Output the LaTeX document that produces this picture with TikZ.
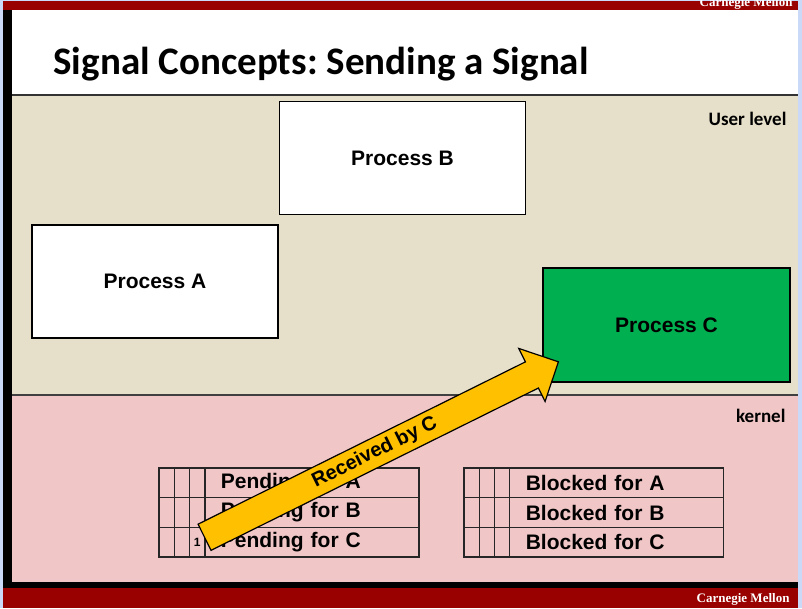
\documentclass[tikz,border=0pt]{standalone}
\usepackage{fontspec}
\setmainfont{Liberation Sans}
\newfontfamily\calibri{Carlito}
\newfontfamily\timesbf{Liberation Serif}
\usetikzlibrary{positioning,shapes.arrows}

\definecolor{cmured}{HTML}{990000}
\definecolor{userbg}{HTML}{E6DFC9}
\definecolor{kernbg}{HTML}{F0C6C6}
\definecolor{procgreen}{HTML}{00B050}
\definecolor{sigyellow}{HTML}{FFC000}
\definecolor{frameblue}{HTML}{C9D9F7}

\begin{document}
\frenchspacing
\begin{tikzpicture}[%
	x=1pt, y=-1pt,
	font=\fontsize{21}{24}\selectfont\bfseries,
	process/.style={draw=black, line width=1.5pt, fill=white, minimum width=246pt, minimum height=113pt, inner sep=0pt},
	cell/.style={draw=black!85, line width=1.3pt, outer sep=0pt, minimum height=29.7pt, inner sep=0pt, anchor=north west},
	tick/.style={cell, minimum width=15.3pt},
	entry/.style={cell, minimum width=214pt, text width=182pt, align=left},
	level/.style={anchor=base east, font=\calibri\fontsize{19}{22}\selectfont\bfseries},
	cmu/.style={anchor=base east, text=white, font=\timesbf\fontsize{13}{14}\selectfont\bfseries},
	signal/.style={single arrow, draw=black, line width=1.2pt, fill=sigyellow, minimum height=395pt, single arrow head extend=15pt, inner ysep=5pt, text height=14pt, text depth=4pt, font=\fontsize{20}{22}\selectfont\bfseries}
	]
	\useasboundingbox (0,0) rectangle (802,608);
	\fill[frameblue] (0,0) rectangle (802,608);
	
	% slide frame
	\fill[cmured] (3,1) rectangle (798,10);
	\fill[white] (12,10) rectangle (798,94);
	\fill[userbg] (12,95) rectangle (798,395);
	\fill[kernbg] (12,395) rectangle (798,582);
	\fill[black] (3,10) rectangle (12,588);
	\fill[black] (3,582) rectangle (798,588);
	\fill[cmured] (3,588) rectangle (798,608);
	\draw[line width=2pt, black!80] (12,95) -- (798,95);
	\draw[line width=1.2pt, black!75] (12,395) -- (798,395);
	
	\node[cmu] (cmutop) at (796,6) {Carnegie Mellon};
	\node[cmu] (cmubot) at (793,602) {Carnegie Mellon};
	\node[anchor=base west, font=\calibri\fontsize{39}{41}\selectfont\bfseries] (title) at (50,74) {Signal Concepts: Sending a Signal};
	
	\node[level] (user) at (790,125) {User level};
	\node[level] (kern) at (789,422) {kernel};
	
	% processes
	\node[process] (procA) at (155,281.5) {Process A};
	\node[process, above right=9pt and 0pt of procA] (procB) {Process B};
	\node[process, fill=procgreen, minimum width=247pt, minimum height=114pt] (procC) at (666.5,325) {Process C};
	
	% pending and blocked bits
	\foreach \p [count=\r from 0] in {A,B,C}{
		\node[tick] (pend\p1) at (159,{468+29.7*\r}) {};
		\node[tick, right=0pt of pend\p1] (pend\p2) {};
		\node[tick, right=0pt of pend\p2] (pend\p3) {};
		\node[entry, right=0pt of pend\p3] (pend\p) {Pending for \p};
		\node[tick, right=45pt of pend\p] (blk\p1) {};
		\node[tick, right=0pt of blk\p1] (blk\p2) {};
		\node[tick, right=0pt of blk\p2] (blk\p3) {};
		\node[entry, right=0pt of blk\p3] (blk\p) {Blocked for \p};
	}
	\node[font=\fontsize{12}{13}\selectfont\bfseries] (bitC) at (pendC3) {1};
	
	\node[signal, anchor=tail, rotate=26.37] (recv) at (204,537.5) {Received by C};
\end{tikzpicture}
\end{document}
